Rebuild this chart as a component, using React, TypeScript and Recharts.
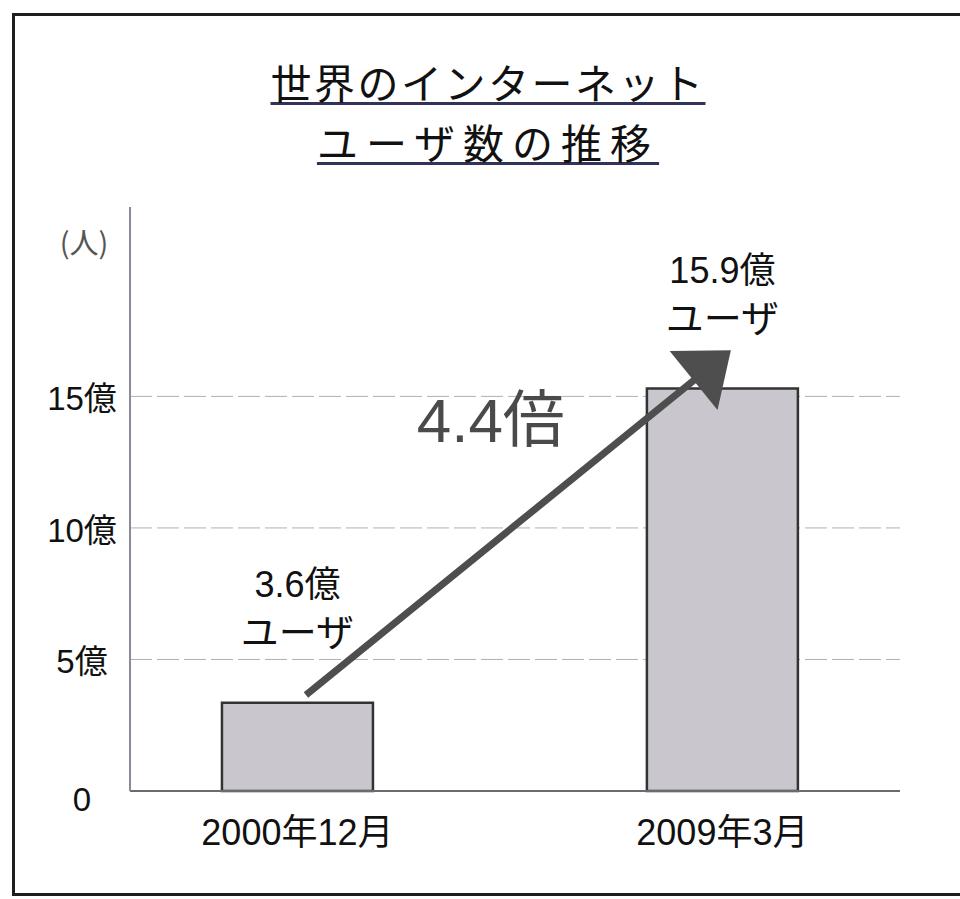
import React from 'react';
import { BarChart, Bar, XAxis, YAxis, CartesianGrid, LabelList, ReferenceLine, ReferenceDot } from 'recharts';

const titleLines = ['世界のインターネット', 'ユーザ数の推移'];
const categories = ['2000年12月', '2009年3月'];
const positions = [0, 1];
const barValues = [3.35, 15.3];
const valueLabels = ['3.6億', '15.9億'];
const unitLabel = 'ユーザ';
const yTicks = [0, 5, 10, 15];
const yTickLabels = ['0', '5億', '10億', '15億'];
const yUnit = '(人)';
const arrowFrom = { x: 0.02, y: 3.65 };
const arrowTo = { x: 1.02, y: 16.75 };
const growthLabel = '4.4倍';
const growthPos = { x: 0.455, y: 14.1 };

const data = categories.map((c, i) => ({ idx: positions[i], name: c, value: barValues[i], label: valueLabels[i] }));

const FONT = "'Liberation Sans', Arial, 'Noto Sans CJK JP', sans-serif";
const CJK = "'Noto Sans CJK JP', 'Liberation Sans', sans-serif";

const XTick = (props: any) => {
  const { x, y, payload } = props;
  const i = positions.indexOf(payload.value);
  return (
    <text x={x} y={y + 46} textAnchor="middle" fontFamily={FONT} fontSize={36} fill="#111">
      {categories[i]}
    </text>
  );
};

const YTick = (props: any) => {
  const { x, y, payload } = props;
  const i = yTicks.indexOf(payload.value);
  const extra = payload.value === 0 ? 6 : 0;
  return (
    <text x={x - 40} y={y + 14 + extra} textAnchor="middle" fontFamily={FONT} fontSize={33} fill="#111">
      {yTickLabels[i]}
    </text>
  );
};

const ArrowShape = (props: any) => {
  const { x1, y1, x2, y2 } = props;
  const dx = x2 - x1;
  const dy = y2 - y1;
  const len = Math.hypot(dx, dy) || 1;
  const ux = dx / len;
  const uy = dy / len;
  const head = 48;
  const half = 38;
  const bx = x2 - ux * head;
  const by = y2 - uy * head;
  const px = -uy;
  const py = ux;
  return (
    <g>
      <line x1={x1} y1={y1} x2={bx + ux * 6} y2={by + uy * 6} stroke="#4e4e4e" strokeWidth={7} />
      <polygon
        points={`${x2},${y2} ${bx + px * half},${by + py * half} ${bx - px * half},${by - py * half}`}
        fill="#4e4e4e"
      />
    </g>
  );
};

const BarLabel = (props: any) => {
  const { x, y, width, index } = props;
  const cx = x + width / 2;
  return (
    <g>
      <text x={cx} y={y - 106} textAnchor="middle" fontFamily={FONT} fontSize={36} fill="#111">
        {valueLabels[index]}
      </text>
      <text x={cx} y={y - 57} textAnchor="middle" fontFamily={CJK} fontSize={38} fill="#111">
        {unitLabel}
      </text>
    </g>
  );
};

const UnitLabel = (props: any) => {
  const { viewBox } = props;
  return (
    <text x={viewBox.x + 84} y={viewBox.y + 47} textAnchor="middle" fontFamily={CJK} fontSize={29} fill="#555">
      {yUnit}
    </text>
  );
};

export default function App() {
  return (
    <div style={{ position: 'absolute', left: 0, top: 0, width: 960, height: 899, background: '#fff', overflow: 'hidden' }}>
      <div
        style={{
          position: 'absolute',
          left: 12,
          top: 13,
          width: 1000,
          height: 883,
          border: '3px solid #1e1e1e',
          boxSizing: 'border-box',
        }}
      />
      {titleLines.map((t, i) => (
        <div
          key={i}
          style={{
            position: 'absolute',
            left: 0,
            width: 976,
            top: i === 0 ? 52 : 112,
            textAlign: 'center',
            fontFamily: CJK,
            fontSize: 41,
            lineHeight: '58px',
            color: '#111',
            letterSpacing: i === 0 ? 2.5 : 8,
          }}
        >
          <span
            style={{
              textDecoration: 'underline',
              textDecorationColor: '#33335a',
              textDecorationThickness: '3px',
              textUnderlineOffset: '3px',
            }}
          >
            {t}
          </span>
        </div>
      ))}
      <div style={{ position: 'absolute', left: 0, top: 0 }}>
        <BarChart width={960} height={899} data={data} margin={{ top: 207, right: 60, bottom: 48, left: 0 }}>
          <CartesianGrid vertical={false} horizontalValues={yTicks} stroke="#b4acbc" strokeDasharray="22 5" />
          <XAxis
            dataKey="idx"
            type="number"
            domain={[-0.394, 1.418]}
            ticks={positions}
            height={60}
            tickLine={false}
            axisLine={{ stroke: '#6a6a70', strokeWidth: 2 }}
            tick={<XTick />}
          />
          <YAxis
            type="number"
            domain={[0, 22.2]}
            ticks={yTicks}
            width={130}
            tickLine={false}
            axisLine={{ stroke: '#8a8a98', strokeWidth: 2 }}
            tick={<YTick />}
            label={<UnitLabel />}
          />
          <Bar dataKey="value" barSize={151} fill="#c9c7cd" stroke="#333" strokeWidth={2.5} isAnimationActive={false}>
            <LabelList dataKey="value" content={<BarLabel />} />
          </Bar>
          <ReferenceLine segment={[arrowFrom, arrowTo]} shape={<ArrowShape />} ifOverflow="visible" />
          <ReferenceDot
            x={growthPos.x}
            y={growthPos.y}
            r={0}
            fill="none"
            stroke="none"
            label={{ value: growthLabel, position: 'center', fontSize: 62, fill: '#4a4a4a', fontFamily: FONT }}
          />
        </BarChart>
      </div>
    </div>
  );
}
